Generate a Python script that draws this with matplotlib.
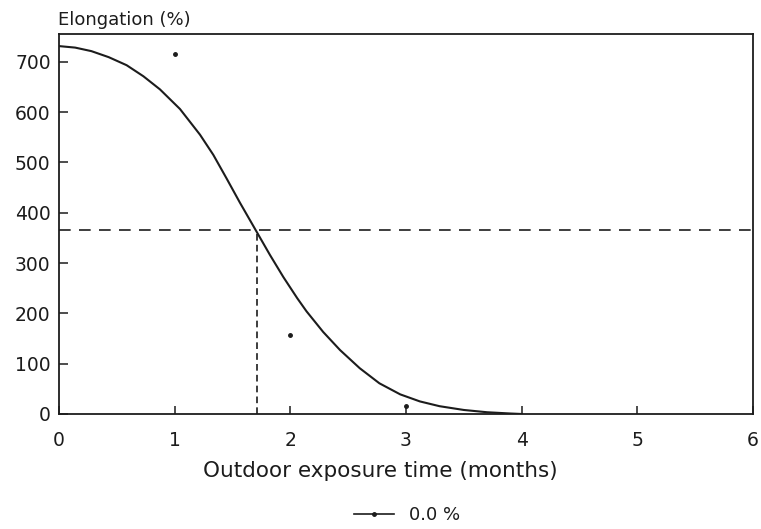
import matplotlib.pyplot as plt
from matplotlib.lines import Line2D

# fitted curve
fit_months = [0.0, 0.14, 0.28, 0.43, 0.585, 0.73, 0.873, 1.046, 1.219, 1.334,
              1.449, 1.564, 1.709, 1.824, 1.94, 2.06, 2.14, 2.284, 2.43, 2.60,
              2.77, 2.95, 3.12, 3.29, 3.5, 3.7, 3.9, 4.0]
fit_elong = [731, 728, 721, 709, 693, 671, 645, 606, 555, 515,
             468, 420, 362, 316, 272, 230, 204, 163, 127, 91,
             61, 39, 25, 15.5, 8, 3.5, 1, 0]

# measured points
pt_months = [1, 2, 3]
pt_elong = [716, 157, 15]

half_value = 365
half_time = 1.71

x_ticks = [0, 1, 2, 3, 4, 5, 6]
y_ticks = [0, 100, 200, 300, 400, 500, 600, 700]

ink = "#1c1c1c"
plt.rcParams["font.family"] = "DejaVu Sans"

fig = plt.figure(figsize=(7.61, 5.29), dpi=100)
ax = fig.add_axes([0.0775, 0.2174, 0.912, 0.7183])

ax.plot(fit_months, fit_elong, color=ink, lw=1.5, solid_joinstyle="round")
ax.plot(pt_months, pt_elong, "o", color=ink, ms=2.5)
ax.axhline(half_value, color=ink, lw=1.2, ls=(0, (7, 5)))
ax.plot([half_time, half_time], [0, half_value], color=ink, lw=1.2, ls=(0, (4, 2.5)))

ax.set_xlim(0, 6)
ax.set_ylim(0, 755)
ax.set_xticks(x_ticks)
ax.set_yticks(y_ticks)
ax.tick_params(axis="x", direction="in", length=6, width=1.1, color=ink,
               labelsize=13.5, pad=12, labelcolor=ink)
ax.tick_params(axis="y", direction="in", length=6.5, width=1.1, color=ink,
               labelsize=13.5, pad=6, labelcolor=ink)
for s in ax.spines.values():
    s.set_linewidth(1.3)
    s.set_color(ink)

ax.set_xlabel("Outdoor exposure time (months)", fontsize=15.5, color=ink, labelpad=10)
ax.xaxis.set_label_coords(0.4625, -0.125)
fig.text(0.076, 0.962, "Elongation (%)", fontsize=13, color=ink, va="center", ha="left")

handle = Line2D([0, 1, 2], [0, 0, 0], color=ink, lw=1.2, marker="o", ms=2.5, markevery=[1])
fig.legend([handle], ["0.0 %"], loc="center", bbox_to_anchor=(0.535, 0.026),
           frameon=False, fontsize=13, handlelength=2.2, handletextpad=0.8,
           labelcolor=ink)

fig.savefig("out.png", dpi=100)
